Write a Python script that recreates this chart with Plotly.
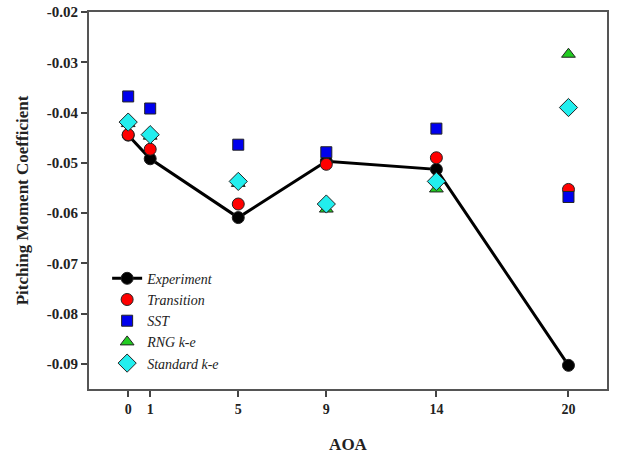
import plotly.graph_objects as go

aoa = [0, 1, 5, 9, 14, 20]
experiment = [-0.0445, -0.0492, -0.0609, -0.0497, -0.0513, -0.0903]
transition = [-0.0444, -0.0473, -0.0582, -0.0503, -0.0490, -0.0553]
sst = [-0.0368, -0.0392, -0.0464, -0.0479, -0.0432, -0.0568]
rng_ke = [-0.0422, -0.0447, -0.0541, -0.0592, -0.0552, -0.0284]
standard_ke = [-0.0419, -0.0444, -0.0537, -0.0582, -0.0537, -0.0390]
xticks = [0, 1, 5, 9, 14, 20]
yticks = [-0.02, -0.03, -0.04, -0.05, -0.06, -0.07, -0.08, -0.09]

serif = "Liberation Serif, Times New Roman, serif"
mline = dict(color="#222222", width=1)

fig = go.Figure()
fig.add_trace(go.Scatter(x=aoa, y=experiment, mode="lines+markers", name="Experiment",
                         line=dict(color="black", width=3),
                         marker=dict(symbol="circle", size=12, color="black", line=mline)))
fig.add_trace(go.Scatter(x=aoa, y=transition, mode="markers", name="Transition",
                         marker=dict(symbol="circle", size=12, color="#ff0000", line=mline)))
fig.add_trace(go.Scatter(x=aoa, y=sst, mode="markers", name="SST",
                         marker=dict(symbol="square", size=11, color="#0000ee", line=mline)))
fig.add_trace(go.Scatter(x=aoa, y=rng_ke, mode="markers", name="RNG k-e",
                         marker=dict(symbol="triangle-up", size=12, color="#22cc22", line=mline)))
fig.add_trace(go.Scatter(x=aoa, y=standard_ke, mode="markers", name="Standard k-e",
                         marker=dict(symbol="diamond", size=14, color="#22eeee", line=mline)))

fig.update_layout(
    width=622, height=455,
    margin=dict(l=89, r=15, t=12, b=66, autoexpand=False),
    paper_bgcolor="white", plot_bgcolor="white",
    font=dict(family=serif, color="#222222"),
    showlegend=True,
    legend=dict(x=0.035, y=0.335, xanchor="left", yanchor="top",
                bgcolor="rgba(0,0,0,0)",
                font=dict(family=serif, size=14, style="italic", color="#222222"),
                tracegroupgap=0, itemwidth=30),
    xaxis=dict(range=[-1.78, 21.75], tickvals=xticks, ticktext=[str(v) for v in xticks],
               ticks="outside", ticklen=6, tickwidth=1.5, tickcolor="#444444",
               showline=True, linecolor="#555555", linewidth=2, mirror=True,
               showgrid=False, zeroline=False, automargin=False,
               tickfont=dict(family=serif, size=14, weight="bold"),
               title=dict(text="<b>AOA</b>", font=dict(family=serif, size=17), standoff=22)),
    yaxis=dict(range=[-0.095, -0.02], tickvals=yticks, ticktext=[f"{v:.2f}" for v in yticks],
               ticks="outside", ticklen=6, tickwidth=1.5, tickcolor="#444444",
               showline=True, linecolor="#555555", linewidth=2, mirror=True,
               showgrid=False, zeroline=False, automargin=False,
               tickfont=dict(family=serif, size=15, weight="bold"),
               title=dict(text="<b>Pitching Moment Coefficient</b>", font=dict(family=serif, size=17), standoff=14)),
)

fig.write_html("out.html")
